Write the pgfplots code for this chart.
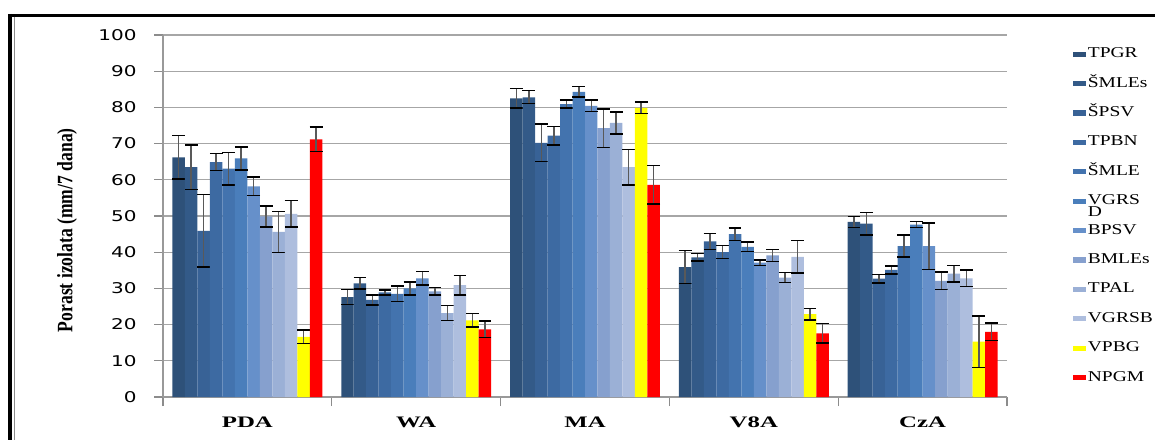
\documentclass[border=0pt]{standalone}
\usepackage{pgfplots}
\pgfplotsset{compat=1.18}
\usepackage{pgfplotstable}
\usepackage{fontspec}
\setmainfont{Liberation Serif}
\newfontfamily\tickfont[FakeStretch=1.35]{DejaVu Sans}
\newfontfamily\grpfont[FakeStretch=1.55]{Liberation Serif}
\newfontfamily\legfont[FakeStretch=1.3]{Liberation Serif}
\newfontfamily\ylabfont[FakeStretch=0.8]{Liberation Serif}

\definecolor{c1}{HTML}{2E5179}
\definecolor{c2}{HTML}{335A88}
\definecolor{c3}{HTML}{386296}
\definecolor{c4}{HTML}{3D6AA2}
\definecolor{c5}{HTML}{4373AE}
\definecolor{c6}{HTML}{4A7EBB}
\definecolor{c7}{HTML}{6690CA}
\definecolor{c8}{HTML}{86A0CE}
\definecolor{c9}{HTML}{9BB0D6}
\definecolor{c10}{HTML}{AEBEDE}
\definecolor{c11}{HTML}{FFFF00}
\definecolor{c12}{HTML}{FF0000}

% g: 0 PDA, 1 WA, 2 MA, 3 V8A, 4 CzA ; m = mean, e = error
\pgfplotstableread{
g m1   e1  m2   e2  m3   e3   m4   e4  m5   e5  m6   e6  m7   e7  m8   e8  m9   e9  m10  e10 m11  e11 m12  e12
0 66.2 6.0 63.5 6.1 45.9 10.0 64.9 2.3 63.1 4.5 65.9 3.2 58.2 2.6 49.9 2.9 45.6 5.6 50.6 3.6 16.6 1.9 71.2 3.4
1 27.6 2.1 31.4 1.6 26.8 1.4  28.9 0.7 28.5 2.2 30.0 1.8 32.8 1.9 29.2 1.0 23.2 2.0 30.9 2.7 21.2 1.9 18.7 2.3
2 82.5 2.7 82.8 1.8 70.2 5.2  72.2 2.6 80.9 1.1 84.3 1.4 80.4 1.6 74.3 5.3 75.7 3.0 63.5 4.9 79.9 1.6 58.6 5.3
3 35.9 4.6 38.6 1.0 43.0 2.2  40.0 1.8 45.0 1.7 41.5 1.3 37.1 0.8 39.1 1.7 33.0 1.4 38.7 4.5 22.9 1.6 17.6 2.7
4 48.4 1.5 47.9 3.1 32.7 1.2  35.1 1.1 41.7 3.0 47.6 0.8 41.7 6.4 32.1 2.4 34.1 2.3 32.8 2.3 15.3 7.1 18.0 2.4
}\data

\pgfplotsset{myleg/.style={legend image code/.code={\fill[##1,draw=none] (0pt,-1.3pt) rectangle (6.5pt,1.3pt);}}}

\begin{document}
\begin{tikzpicture}
\useasboundingbox (0,0) rectangle (577.5pt,220pt);
% outer frame
\draw[line width=1.5pt] (4pt,212.3pt) -- (577.5pt,212.3pt);
\draw[line width=1.6pt] (5pt,213pt) -- (5pt,0pt);
\draw[black!45, line width=0.5pt] (7pt,211.5pt) -- (7pt,0pt);
\begin{axis}[
    at={(81.5pt,21.5pt)}, anchor=south west,
    scale only axis, width=422pt, height=181pt,
    ybar=0pt, bar width=0.074,
    xmin=-0.5, xmax=4.5, ymin=0, ymax=100,
    ytick={0,10,...,100},
    xtick={-0.5,0.5,...,4.5}, xticklabels={},
    extra x ticks={0,1,2,3,4},
    extra x tick labels={PDA,WA,MA,V8A,CzA},
    extra x tick style={major tick length=0pt},
    axis x line*=bottom, axis y line*=left,
    axis line style={black!40, line width=0.6pt},
    ymajorgrids, grid style={black!35, line width=0.6pt},
    tick style={black!45, line width=0.6pt},
    tick align=outside, major tick length=4.5pt,
    /pgf/number format/assume math mode=true,
    yticklabel style={font=\tickfont\fontsize{7.4}{8}\selectfont, anchor=east, inner sep=0pt, xshift=-8.5pt},
    xticklabel style={font=\grpfont\bfseries\fontsize{8}{9}\selectfont, anchor=base, inner sep=0pt, yshift=-15pt},
    ylabel={\ylabfont\bfseries\fontsize{11}{12}\selectfont Porast izolata (mm/7 dana)},
    ylabel style={at={(axis description cs:-0.1137,0.461)}, anchor=center},
    legend style={at={(1.078,0.965)}, anchor=north west, draw=none, fill=none,
        inner sep=0pt, outer sep=0pt, row sep=8.2pt, column sep=1pt,
        font=\legfont\fontsize{7.5}{9}\selectfont,
        nodes={inner sep=0pt, text height=5pt, text depth=1.5pt}},
    legend cell align=left,
]
\pgfplotsinvokeforeach{1,...,12}{
\addplot[fill=c#1, draw=none, myleg,
    error bars/.cd, y dir=both, y explicit,
    error bar style={line width=0.75pt, black!65},
    error mark options={rotate=90, mark size=3.2pt, line width=0.7pt, black}]
    table[x=g, y=m#1, y error=e#1] {\data};
}
\legend{TPGR, ŠMLEs, ŠPSV, TPBN, ŠMLE,
    {\begin{tabular}[t]{@{}l@{}}VGRS\\[-3pt]D\end{tabular}},
    BPSV, BMLEs, TPAL, VGRSB, VPBG, NPGM}
\end{axis}
\end{tikzpicture}
\end{document}
